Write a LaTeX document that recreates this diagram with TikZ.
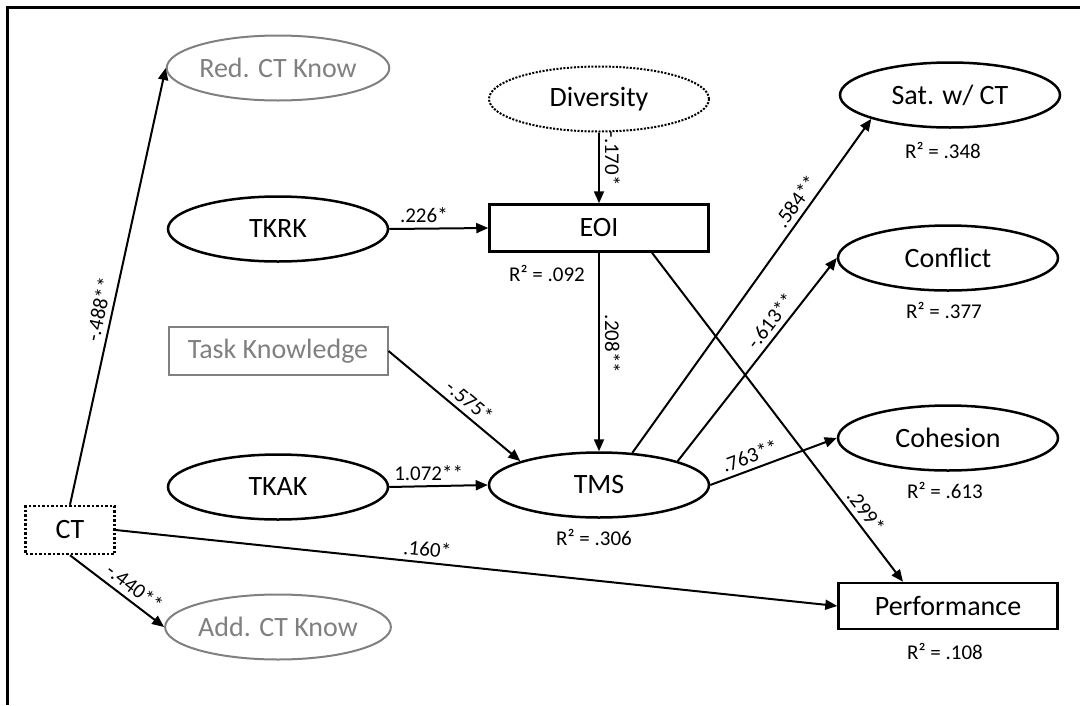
\documentclass[tikz,border=0pt]{standalone}
\usepackage{fontspec}
\setmainfont{Carlito}
\usetikzlibrary{shapes.geometric,arrows.meta}
\definecolor{softgrey}{RGB}{128,128,128}
\begin{document}
\begin{tikzpicture}[x=1pt,y=1pt,
  lat/.style={draw=black,ellipse,line width=2.5pt,minimum width=220pt,minimum height=65pt,inner sep=0pt,font=\fontsize{28}{30}\selectfont},
  obs/.style={draw=black,rectangle,line width=2.5pt,minimum width=219pt,minimum height=47pt,inner sep=0pt,font=\fontsize{28}{30}\selectfont},
  faint/.style={draw=softgrey,text=softgrey,line width=2pt},
  dots/.style={dash pattern=on 2.5pt off 2pt},
  lbl/.style={font=\fontsize{21}{23}\selectfont,inner sep=5pt},
  rsq/.style={font=\fontsize{21}{23}\selectfont,inner sep=0pt},
  arr/.style={-{Triangle[length=12pt,width=10pt]},line width=2pt}]
\useasboundingbox (0,0) rectangle (1080,-705);
\draw[line width=3pt] (1080,-7) -- (7,-7) -- (7,-705);
\node[lat,faint] (RCK) at (278,-68) {Red. CT Know};
\node[lat,line width=2pt,dots,dash pattern=on 2pt off 1.5pt] (Div) at (599,-99) {Diversity};
\node[lat] (Sat) at (950,-95) {Sat. w/ CT};
\node[lat] (TKRK) at (278,-229) {TKRK};
\node[obs] (EOI) at (599,-228) {EOI};
\node[lat] (Con) at (948,-258) {Conflict};
\node[obs,faint,minimum height=48pt] (TK) at (278,-351) {Task Knowledge};
\node[lat] (TKAK) at (278,-487) {TKAK};
\node[lat] (TMS) at (599,-485) {TMS};
\node[lat] (Coh) at (948,-438) {Cohesion};
\node[obs,dots,minimum width=89pt,minimum height=48pt] (CT) at (70,-530) {CT};
\node[lat,faint] (ACK) at (278,-627) {Add. CT Know};
\node[obs,minimum height=46pt] (Perf) at (948,-606) {Performance};
\node[rsq] (r2Sat) at (943,-150) {R² = .348};
\node[rsq] (r2EOI) at (547,-273) {R² = .092};
\node[rsq] (r2Con) at (944,-310) {R² = .377};
\node[rsq] (r2TMS) at (594,-537) {R² = .306};
\node[rsq] (r2Coh) at (945,-490) {R² = .613};
\node[rsq] (r2Perf) at (945,-651) {R² = .108};
\draw[arr] (CT.north) -- (RCK.west) node[lbl,sloped,above,pos=0.44] {-.488**};
\draw[arr] (CT.south) -- (ACK.west) node[lbl,sloped,above,pos=0.6] {-.440**};
\draw[arr] (CT.east) -- (Perf.west) node[lbl,sloped,above,pos=0.43] {.160*};
\draw[arr] (TKRK.east) -- (EOI.west) node[lbl,above,pos=0.35] {.226*};
\draw[arr] (Div.south) -- (EOI.north) node[lbl,pos=0.37,anchor=south,rotate=-90] {-.170*};
\draw[arr] (EOI.south) -- (TMS.north) node[lbl,pos=0.46,anchor=south,rotate=-90] {.208**};
\draw[arr] (TK.east) -- (TMS.north west) node[lbl,sloped,above,pos=0.55] {-.575*};
\draw[arr] (TKAK.east) -- (TMS.west) node[lbl,above,pos=0.4] {1.072**};
\draw[arr] (TMS.44) -- (Sat.south west) node[lbl,sloped,above,pos=0.73] {.584**};
\draw[arr] (TMS.north east) -- (Con.west) node[lbl,sloped,above,pos=0.65] {-.613**};
\draw[arr] (TMS.east) -- (Coh.west) node[lbl,sloped,above,pos=0.35] {.763**};
\draw[arr] ([xshift=53pt]EOI.south) -- ([xshift=-45pt]Perf.north) node[lbl,sloped,above,pos=0.81] {.299*};
\end{tikzpicture}
\end{document}
